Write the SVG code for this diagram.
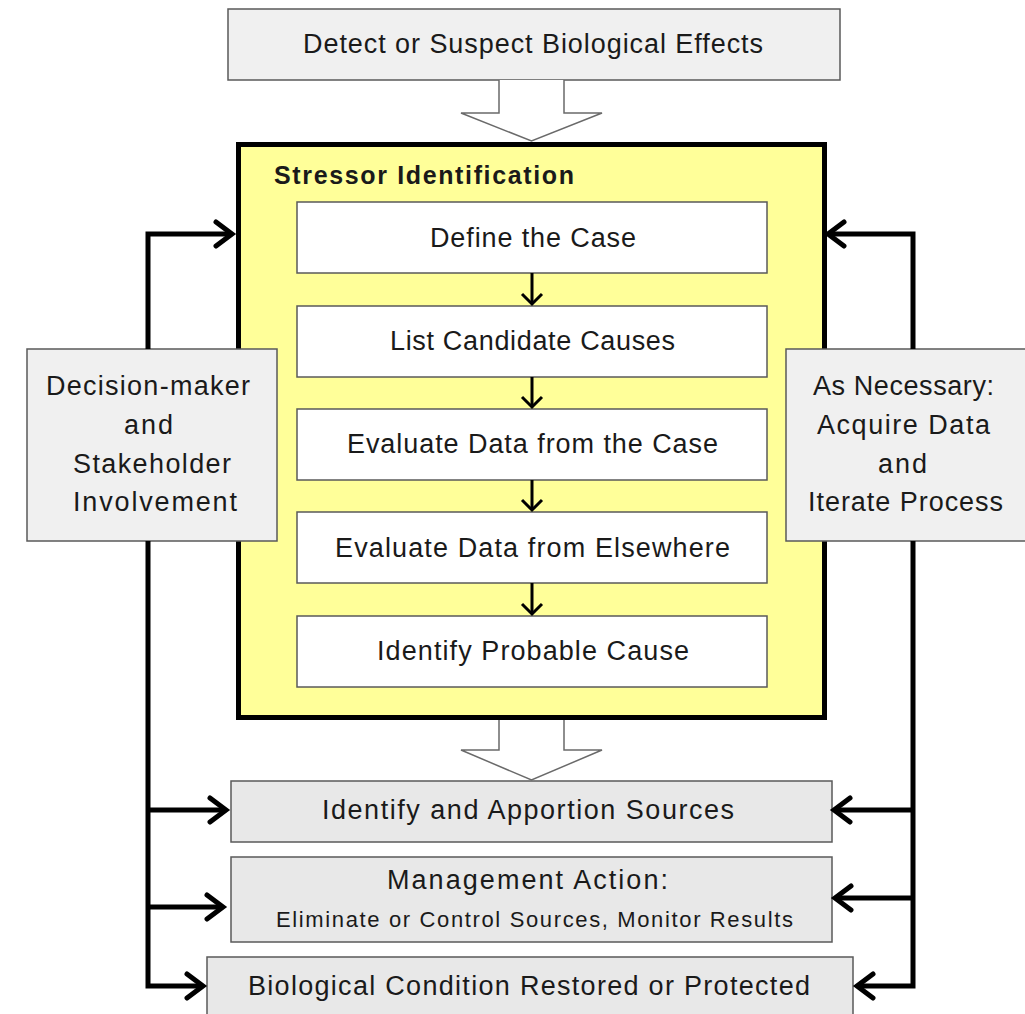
<svg xmlns="http://www.w3.org/2000/svg" width="1025" height="1014" viewBox="0 0 1025 1014">
<style>
text{font-family:"Liberation Sans",Arial,sans-serif;fill:#1a1a1a;text-anchor:middle}
.t{font-size:27px}
.gray{fill:#f0f0f0;stroke:#5a5a5a;stroke-width:1.5}
.gray2{fill:#e8e8e8;stroke:#5a5a5a;stroke-width:1.5}
.white{fill:#fff;stroke:#5a5a5a;stroke-width:1.5}
.conn{fill:none;stroke:#000;stroke-width:5;stroke-linejoin:miter}
.head{fill:none;stroke:#000;stroke-width:5;stroke-linecap:round;stroke-linejoin:miter}
.small{fill:none;stroke:#000;stroke-width:3}
.hollow{fill:#fff;stroke:#6a6a6a;stroke-width:1.5}
</style>
<rect width="1025" height="1014" fill="#fff"/>

<g id="detect">
<rect class="gray" x="228" y="9" width="612" height="71"/>
<text class="t" x="533" y="53" textLength="460" lengthAdjust="spacing">Detect or Suspect Biological Effects</text>
</g>

<g id="stressor-identification">
<rect x="238.5" y="144.5" width="586" height="573" fill="#ffff99" stroke="#000" stroke-width="5"/>
<text x="274" y="184" textLength="300" lengthAdjust="spacing" style="font-size:25px;font-weight:bold;text-anchor:start">Stressor Identification</text>
</g>

<g id="define"><rect class="white" x="297" y="202" width="470" height="71"/><text class="t" x="533" y="247" textLength="206" lengthAdjust="spacing">Define the Case</text></g>
<g id="list"><rect class="white" x="297" y="306" width="470" height="71"/><text class="t" x="532.5" y="350" textLength="285" lengthAdjust="spacing">List Candidate Causes</text></g>
<g id="eval-case"><rect class="white" x="297" y="409" width="470" height="71"/><text class="t" x="532.5" y="453" textLength="371" lengthAdjust="spacing">Evaluate Data from the Case</text></g>
<g id="eval-else"><rect class="white" x="297" y="512" width="470" height="71"/><text class="t" x="532.5" y="557" textLength="395" lengthAdjust="spacing">Evaluate Data from Elsewhere</text></g>
<g id="probable"><rect class="white" x="297" y="616" width="470" height="71"/><text class="t" x="533" y="660" textLength="312" lengthAdjust="spacing">Identify Probable Cause</text></g>

<g id="decision-maker">
<rect class="gray" x="27" y="349" width="250" height="192"/>
<text class="t" x="148" y="395" textLength="204" lengthAdjust="spacing">Decision-maker</text>
<text class="t" x="148.5" y="434" textLength="49" lengthAdjust="spacing">and</text>
<text class="t" x="152" y="473" textLength="158" lengthAdjust="spacing">Stakeholder</text>
<text class="t" x="155" y="511" textLength="164" lengthAdjust="spacing">Involvement</text>
</g>

<g id="as-necessary">
<rect class="gray" x="786" y="349" width="240" height="192"/>
<text class="t" x="903.5" y="395" textLength="181" lengthAdjust="spacing">As Necessary:</text>
<text class="t" x="903.5" y="434" textLength="173" lengthAdjust="spacing">Acquire Data</text>
<text class="t" x="902.5" y="473" textLength="49" lengthAdjust="spacing">and</text>
<text class="t" x="905.5" y="511" textLength="195" lengthAdjust="spacing">Iterate Process</text>
</g>

<g id="apportion">
<rect class="gray2" x="231" y="781" width="601" height="61"/>
<text class="t" x="528" y="819" textLength="412" lengthAdjust="spacing">Identify and Apportion Sources</text>
</g>
<g id="management">
<rect class="gray2" x="231" y="857" width="601" height="85"/>
<text class="t" x="527.5" y="889" textLength="281" lengthAdjust="spacing">Management Action:</text>
<text x="534.5" y="927" textLength="517" lengthAdjust="spacing" style="font-size:22px">Eliminate or Control Sources, Monitor Results</text>
</g>
<g id="restored">
<rect class="gray2" x="207" y="957" width="646" height="70"/>
<text class="t" x="529" y="995" textLength="562" lengthAdjust="spacing">Biological Condition Restored or Protected</text>
</g>

<g id="connectors">
<path class="hollow" d="M499,80 V113 H461 L531.5,141 L602,113 H564 V80"/>
<path class="hollow" d="M499,720 V750 H461 L531.5,780 L602,750 H564 V720"/>
<g>
<path class="small" d="M532,273 V304"/><path class="small" d="M522,294 L532,304 L542,294"/>
<path class="small" d="M532,377 V407"/><path class="small" d="M522,397 L532,407 L542,397"/>
<path class="small" d="M532,480 V510"/><path class="small" d="M522,500 L532,510 L542,500"/>
<path class="small" d="M532,583 V614"/><path class="small" d="M522,604 L532,614 L542,604"/>
</g>
<path class="conn" d="M148,349 V234 H232"/>
<path class="head" d="M216,222 L232,234 L216,246"/>
<path class="conn" d="M148,541 V986 H203"/>
<path class="conn" d="M148,810 H226"/>
<path class="conn" d="M148,907 H223"/>
<path class="head" d="M210,798 L226,810 L210,822"/>
<path class="head" d="M207,895 L223,907 L207,919"/>
<path class="head" d="M187,974 L203,986 L187,998"/>
<path class="conn" d="M913,349 V234 H828"/>
<path class="head" d="M844,222 L828,234 L844,246"/>
<path class="conn" d="M913,541 V986 H857"/>
<path class="conn" d="M913,810 H834"/>
<path class="conn" d="M913,898 H835"/>
<path class="head" d="M850,798 L834,810 L850,822"/>
<path class="head" d="M851,886 L835,898 L851,910"/>
<path class="head" d="M873,974 L857,986 L873,998"/>
</g>
</svg>
